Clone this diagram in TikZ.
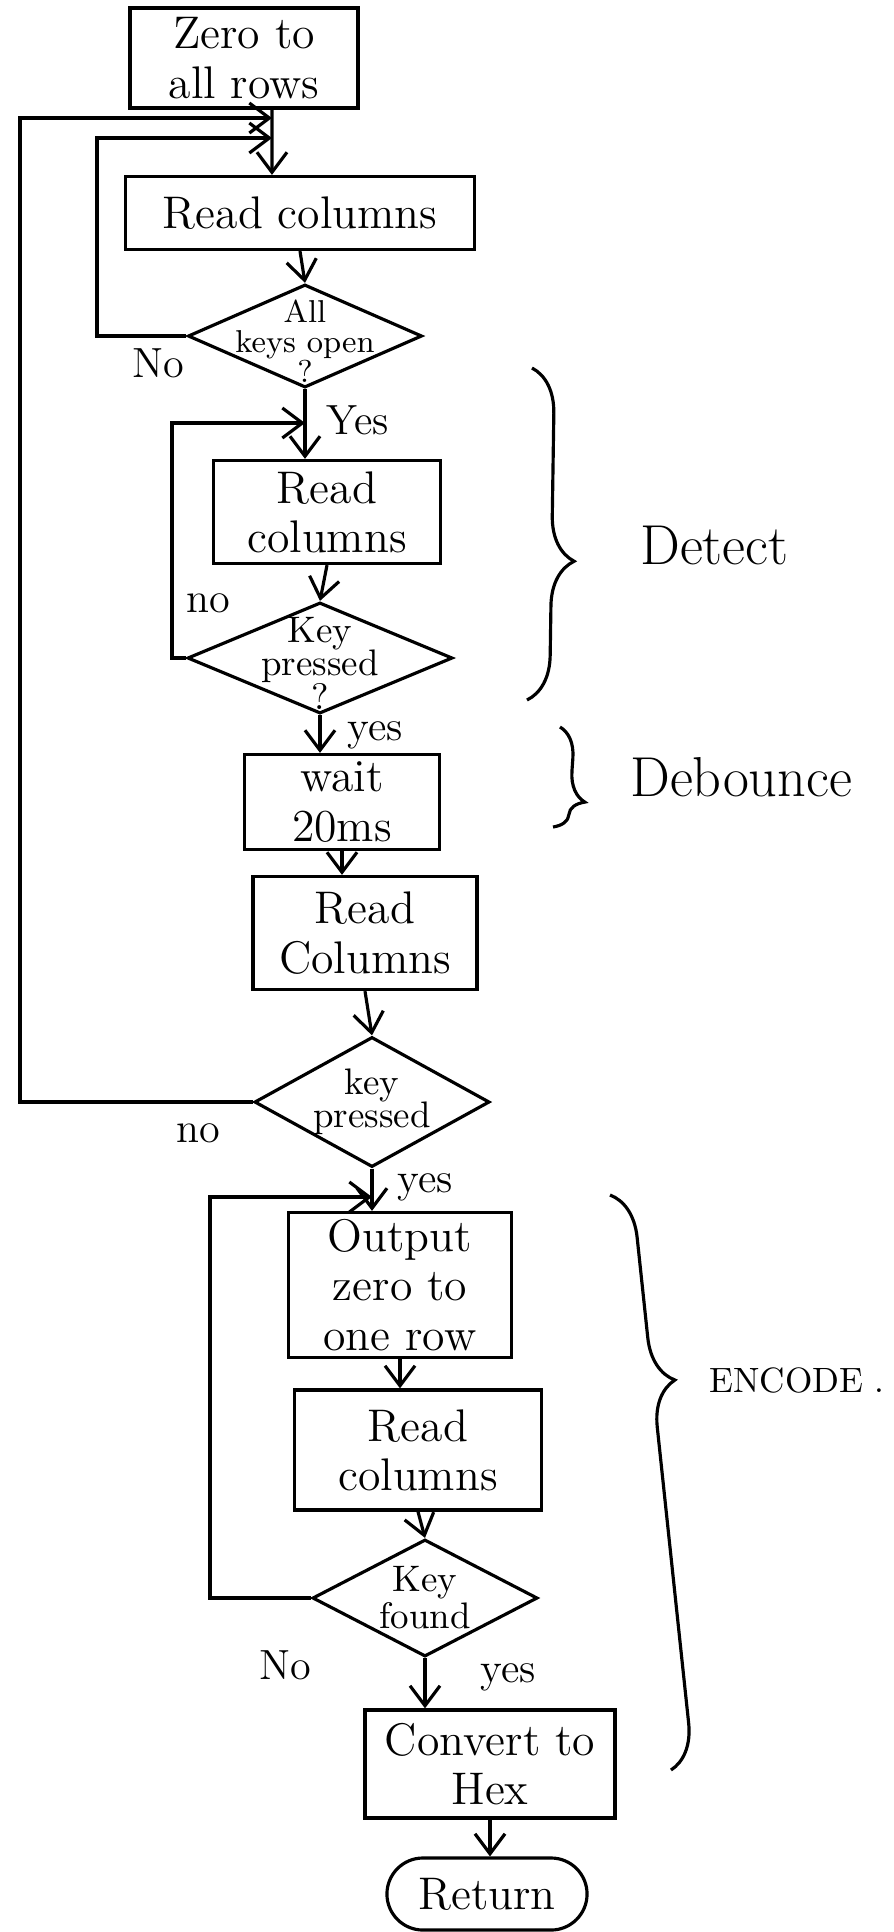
\documentclass[tikz,border=0pt]{standalone}
\usepackage{fontspec}
\usetikzlibrary{shapes.geometric,arrows.meta,decorations.pathreplacing}

\begin{document}
\begin{tikzpicture}[
    x=0.01cm, y=-0.01cm,
    line width=0.9pt,
    box/.style={draw, inner sep=2pt, align=center, font=\fontsize{13}{14}\selectfont},
    decision/.style={draw, diamond, inner sep=0pt},
    dtext/.style={align=center, font=\fontsize{10.5}{9.5}\selectfont},
    term/.style={draw, rounded corners=3.6mm, align=center, font=\fontsize{13}{14}\selectfont},
    flow/.style={-{Straight Barb[length=2mm,width=3mm]}},
    lbl/.style={font=\large},
    groupbrace/.style={decorate, decoration={brace, amplitude=#1}},
    grouplbl/.style={anchor=west, font=\fontsize{16}{18}\selectfont},
  ]
  \useasboundingbox (0,0) rectangle (894,1932);

  % main column
  \node[box, minimum width=2.28cm, minimum height=1.0cm] (zero) at (244,58) {Zero to\\all rows};
  \node[box, minimum width=3.48cm, minimum height=0.73cm] (readA) at (300,213) {Read columns};
  \node[decision, minimum width=2.34cm, minimum height=1.03cm] (keysopen) at (305,336) {};
  \node[dtext, font=\fontsize{9}{8.5}\selectfont] (keysopentxt) at ([yshift=-0.5mm]keysopen.center) {All\\keys open\\?};
  \node[box, minimum width=2.27cm, minimum height=1.03cm] (readB) at (327,512) {Read\\columns};
  \node[decision, minimum width=2.65cm, minimum height=1.11cm] (pressA) at (320,658) {};
  \node[dtext] (pressAtxt) at ([yshift=-0.5mm]pressA.center) {Key\\pressed\\?};
  \node[box, minimum width=1.95cm, minimum height=0.95cm] (wait) at (342,802) {wait\\20ms};
  \node[box, minimum width=2.24cm, minimum height=1.13cm] (readC) at (365,933) {Read\\Columns};
  \node[decision, minimum width=2.35cm, minimum height=1.3cm] (pressB) at (372,1102) {};
  \node[dtext] (pressBtxt) at (pressB.center) {key\\pressed};
  \node[box, minimum width=2.23cm, minimum height=1.45cm] (output) at (400,1285) {Output\\zero to\\one row};
  \node[box, minimum width=2.47cm, minimum height=1.2cm] (readD) at (418,1450) {Read\\columns};
  \node[decision, minimum width=2.25cm, minimum height=1.17cm] (found) at (425,1598) {};
  \node[dtext] (foundtxt) at (found.center) {Key\\found};
  \node[box, minimum width=2.5cm, minimum height=1.08cm] (convert) at (490,1764) {Convert to\\Hex};
  \node[term, minimum width=2.0cm, minimum height=0.72cm] (ret) at (487,1894) {Return};

  % joints where the loops come back
  \coordinate (inA) at (272,118);
  \coordinate (inB) at (272,138);
  \coordinate (joinB) at (keysopen.south |- 0,423);
  \coordinate (joinC) at (pressB.south |- 0,1197);

  % flow
  \draw[flow] ([xshift=2.8mm]zero.south) -- ([xshift=-2.8mm]readA.north);
  \draw[flow] (readA.south) -- (keysopen.north);
  \draw[flow] (keysopen.south) -- (keysopen.south |- readB.north);
  \draw[flow] (readB.south) -- (pressA.north);
  \draw[flow] (pressA.south) -- (pressA.south |- wait.north);
  \draw[flow] (wait.south) -- (wait.south |- readC.north);
  \draw[flow] (readC.south) -- (pressB.north);
  \draw[flow] (pressB.south) -- (pressB.south |- output.north);
  \draw[flow] (output.south) -- (output.south |- readD.north);
  \draw[flow] (readD.south) -- (found.north);
  \draw[flow] (found.south) -- (found.south |- convert.north);
  \draw[flow] (convert.south) -- (convert.south |- ret.north);

  % loops back
  \draw[flow] (pressB.west) -| (20,118) -- (inA);
  \draw[flow] (keysopen.west) -| (97,138) -- (inB);
  \draw[flow] (pressA.west) -| (172,423) -- (joinB);
  \draw[flow] (found.west) -| (210,1197) -- (joinC);

  % yes / no
  \node[lbl] (noA) at (158,363) {No};
  \node[lbl] (yesA) at (358,420) {Yes};
  \node[lbl] (noB) at (208,603) {no};
  \node[lbl] (yesB) at (375,735) {yes};
  \node[lbl] (noC) at (198,1133) {no};
  \node[lbl] (yesC) at (425,1187) {yes};
  \node[lbl] (noD) at (285,1665) {No};
  \node[lbl] (yesD) at (508,1677) {yes};

  % groups
  \draw[groupbrace=4.5mm, decoration={aspect=0.58}] (532,368) -- (527,700);
  \node[grouplbl] (detect) at (627,545) {Detect};
  \draw[groupbrace=3mm, decoration={aspect=0.73}] (560,727) -- (553,827);
  \node[grouplbl] (debounce) at (617,777) {Debounce};
  \draw[groupbrace=4.5mm, decoration={aspect=0.33}] (610,1195) -- (671,1770);
  \node[grouplbl, font=\normalsize] (encode) at (696,1380) {ENCODE .};
\end{tikzpicture}
\end{document}
